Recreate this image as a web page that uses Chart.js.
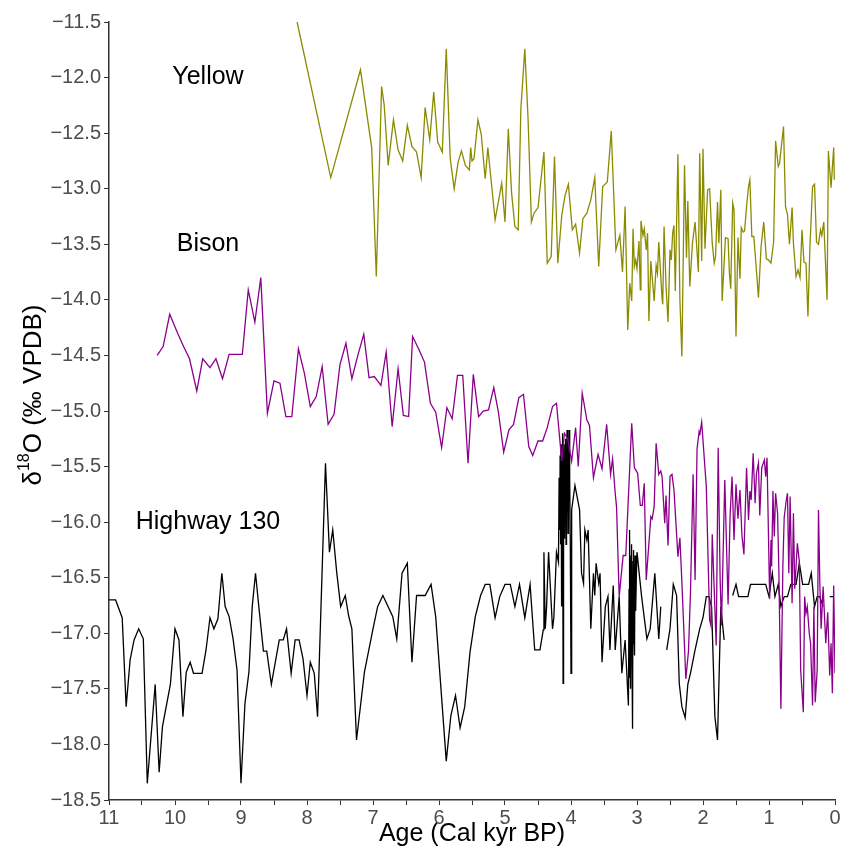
<!DOCTYPE html>
<html>
<head>
<meta charset="utf-8">
<script src="https://cdn.jsdelivr.net/npm/chart.js@4.4.1/dist/chart.umd.min.js"></script>
<style>
  html, body { margin: 0; padding: 0; background: #ffffff; }
  #wrap { width: 842px; height: 850px; }
</style>
</head>
<body>
<div id="wrap"><canvas id="c" width="842" height="850"></canvas></div>
<script>
// ---------- DATA ----------
const xTickLabels = ["11","10","9","8","7","6","5","4","3","2","1","0"];
const seriesNames = ["Yellow", "Bison", "Highway 130"];

const yellowAge = [8.15,7.64,7.19,7.02,6.95,6.87,6.83,6.77,6.69,6.62,6.55,6.48,6.41,6.34,6.27,6.21,6.14,6.08,6.02,5.95,5.89,5.83,5.77,5.71,5.66,5.60,5.54,5.52,5.50,5.47,5.41,5.36,5.30,5.26,5.15,5.05,5.00,4.95,4.90,4.85,4.80,4.76,4.70,4.65,4.60,4.56,4.50,4.41,4.36,4.30,4.25,4.20,4.14,4.09,4.04,3.98,3.93,3.87,3.82,3.76,3.70,3.64,3.58,3.52,3.45,3.39,3.32,3.26,3.22,3.18,3.14,3.11,3.08,3.06,3.04,3.02,3.00,2.97,2.95,2.94,2.91,2.89,2.86,2.84,2.82,2.79,2.74,2.71,2.69,2.67,2.62,2.61,2.59,2.56,2.53,2.50,2.48,2.46,2.44,2.42,2.38,2.35,2.32,2.28,2.25,2.23,2.20,2.16,2.12,2.07,2.05,2.02,2.00,1.97,1.93,1.90,1.86,1.83,1.81,1.78,1.76,1.73,1.71,1.66,1.62,1.60,1.58,1.55,1.53,1.50,1.47,1.44,1.42,1.39,1.37,1.34,1.31,1.29,1.26,1.23,1.20,1.16,1.12,1.08,1.04,1.01,0.97,0.93,0.90,0.86,0.84,0.78,0.75,0.72,0.69,0.65,0.63,0.59,0.56,0.53,0.50,0.47,0.44,0.41,0.38,0.34,0.31,0.28,0.25,0.22,0.20,0.17,0.12,0.10,0.06,0.02,0.01];
const yellowD18O = [-11.50,-12.90,-11.93,-12.63,-13.79,-12.08,-12.25,-12.79,-12.38,-12.65,-12.75,-12.43,-12.62,-12.67,-12.90,-12.27,-12.56,-12.13,-12.58,-12.67,-11.74,-12.73,-13.00,-12.76,-12.66,-12.79,-12.83,-12.63,-12.75,-12.73,-12.38,-12.51,-12.91,-12.63,-13.28,-12.95,-13.30,-12.46,-13.04,-13.34,-13.37,-12.29,-11.74,-12.38,-13.30,-13.22,-13.17,-12.67,-13.67,-13.61,-12.71,-13.67,-13.24,-13.06,-12.96,-13.37,-13.32,-13.58,-13.27,-13.22,-13.10,-12.90,-13.70,-12.98,-12.94,-12.48,-13.55,-13.42,-13.75,-13.16,-14.27,-13.85,-14.01,-13.36,-13.70,-13.64,-13.72,-13.47,-13.91,-13.29,-13.42,-13.36,-13.55,-13.40,-14.19,-13.65,-14.01,-13.69,-13.76,-13.48,-13.99,-14.04,-13.34,-13.88,-14.20,-13.55,-13.64,-13.40,-13.33,-13.92,-12.69,-14.00,-14.51,-12.79,-13.62,-13.11,-13.88,-13.49,-13.30,-13.75,-12.68,-13.65,-12.64,-13.54,-13.01,-13.00,-13.49,-13.67,-13.61,-13.12,-13.49,-13.01,-14.01,-13.44,-13.45,-13.76,-13.90,-13.13,-13.19,-14.33,-13.44,-13.81,-13.35,-13.39,-13.38,-13.16,-12.98,-12.92,-13.43,-13.43,-13.66,-13.98,-13.52,-13.30,-13.63,-13.64,-13.67,-13.48,-12.57,-12.80,-12.77,-12.44,-13.16,-13.23,-13.50,-13.17,-13.49,-13.79,-13.73,-13.80,-13.37,-13.66,-13.67,-14.15,-13.52,-12.98,-12.96,-13.48,-13.50,-13.37,-13.42,-13.30,-14.00,-12.66,-12.99,-12.63,-12.92];

const bisonAge = [10.27,10.18,10.08,9.96,9.87,9.78,9.67,9.58,9.47,9.38,9.28,9.18,9.08,8.98,8.89,8.79,8.70,8.60,8.50,8.41,8.32,8.23,8.13,8.04,7.95,7.86,7.77,7.68,7.59,7.50,7.41,7.32,7.23,7.14,7.06,6.98,6.88,6.80,6.71,6.62,6.54,6.46,6.40,6.31,6.22,6.13,6.05,5.96,5.88,5.80,5.72,5.64,5.56,5.48,5.40,5.33,5.25,5.17,5.10,5.02,4.94,4.87,4.79,4.72,4.64,4.58,4.50,4.43,4.36,4.28,4.22,4.14,4.10,4.05,3.99,3.93,3.89,3.83,3.76,3.72,3.66,3.59,3.53,3.46,3.40,3.37,3.33,3.31,3.27,3.21,3.17,3.08,3.04,2.99,2.95,2.92,2.89,2.86,2.79,2.77,2.74,2.71,2.67,2.64,2.62,2.58,2.56,2.53,2.50,2.47,2.44,2.38,2.35,2.32,2.26,2.22,2.19,2.15,2.12,2.09,2.06,2.05,2.02,1.95,1.90,1.88,1.86,1.80,1.77,1.74,1.72,1.67,1.62,1.59,1.56,1.53,1.50,1.47,1.44,1.41,1.38,1.34,1.31,1.29,1.27,1.24,1.21,1.19,1.16,1.14,1.11,1.07,1.05,1.03,0.99,0.97,0.96,0.94,0.92,0.90,0.87,0.85,0.82,0.79,0.77,0.74,0.72,0.70,0.68,0.65,0.63,0.61,0.57,0.54,0.52,0.48,0.46,0.44,0.42,0.39,0.37,0.34,0.32,0.30,0.27,0.25,0.23,0.21,0.18,0.14,0.11,0.08,0.06,0.04,0.02,0.00];
const bisonD18O = [-14.50,-14.42,-14.13,-14.30,-14.42,-14.53,-14.82,-14.53,-14.61,-14.53,-14.71,-14.49,-14.49,-14.49,-13.91,-14.20,-13.80,-15.02,-14.73,-14.75,-15.05,-15.05,-14.44,-14.66,-14.96,-14.87,-14.60,-15.12,-15.03,-14.58,-14.39,-14.71,-14.50,-14.31,-14.70,-14.69,-14.77,-14.47,-15.14,-14.62,-15.04,-15.05,-14.33,-14.44,-14.56,-14.93,-15.01,-15.33,-14.97,-15.07,-14.68,-14.68,-15.47,-14.67,-15.05,-15.00,-14.99,-14.79,-15.01,-15.37,-15.17,-15.12,-14.88,-14.85,-15.32,-15.40,-15.27,-15.27,-15.15,-14.96,-14.93,-15.45,-15.20,-15.25,-15.45,-15.15,-15.50,-14.84,-15.08,-15.13,-15.60,-15.39,-15.52,-15.12,-15.57,-15.43,-15.74,-15.86,-16.67,-16.30,-16.30,-15.11,-15.51,-15.56,-15.85,-15.85,-15.65,-16.52,-15.95,-15.97,-15.86,-15.29,-15.57,-15.54,-15.59,-16.01,-15.76,-16.21,-15.59,-15.57,-15.71,-16.31,-16.14,-16.54,-17.41,-17.16,-16.64,-15.57,-16.52,-15.34,-15.19,-15.22,-15.10,-15.68,-16.88,-16.93,-16.11,-17.11,-15.33,-16.52,-16.93,-15.62,-16.74,-15.95,-15.59,-16.16,-15.66,-15.97,-15.71,-16.12,-16.29,-15.51,-15.98,-15.72,-15.80,-15.38,-15.83,-15.56,-15.47,-15.94,-15.51,-15.44,-15.59,-15.42,-16.69,-16.16,-16.40,-15.72,-16.13,-15.74,-15.92,-16.45,-17.68,-16.40,-15.96,-15.81,-15.74,-16.46,-15.77,-16.73,-15.92,-16.60,-16.19,-16.36,-17.33,-17.71,-16.67,-16.82,-16.76,-17.00,-17.09,-17.65,-16.76,-17.62,-17.33,-15.89,-16.54,-16.96,-16.58,-17.09,-16.81,-17.38,-17.09,-17.54,-16.57,-17.36];

const highwayAge = [11.00,10.90,10.80,10.74,10.68,10.62,10.55,10.48,10.42,10.30,10.24,10.19,10.07,10.00,9.94,9.88,9.83,9.77,9.72,9.59,9.53,9.47,9.41,9.35,9.29,9.24,9.18,9.12,9.06,9.00,8.94,8.88,8.83,8.78,8.73,8.66,8.61,8.54,8.48,8.42,8.36,8.31,8.24,8.18,8.12,8.06,8.00,7.95,7.89,7.84,7.72,7.66,7.61,7.55,7.49,7.42,7.37,7.32,7.25,7.13,7.00,6.93,6.85,6.70,6.64,6.56,6.48,6.41,6.34,6.21,6.12,6.05,5.89,5.82,5.75,5.68,5.61,5.53,5.45,5.37,5.30,5.23,5.15,5.08,5.00,4.92,4.85,4.78,4.70,4.62,4.55,4.47,4.42,4.41,4.39,4.37,4.34,4.28,4.26,4.22,4.19,4.18,4.17,4.165,4.16,4.155,4.15,4.145,4.14,4.135,4.13,4.125,4.12,4.115,4.11,4.105,4.10,4.095,4.09,4.085,4.08,4.075,4.07,4.065,4.06,4.055,4.05,4.045,4.04,4.035,4.03,4.02,4.01,4.00,3.99,3.94,3.87,3.84,3.81,3.79,3.76,3.74,3.70,3.66,3.64,3.62,3.58,3.56,3.53,3.48,3.44,3.41,3.36,3.33,3.27,3.23,3.18,3.13,3.12,3.115,3.11,3.105,3.10,3.095,3.09,3.085,3.08,3.075,3.07,3.065,3.06,3.055,3.05,3.045,3.04,3.035,3.03,3.02,3.01,3.00,2.93,2.85,2.80,2.73,2.67,2.64,2.60,2.55,2.50,2.45,2.40,2.36,2.32,2.27,2.23,2.19,2.12,2.05,2.00,1.95,1.91,1.87,1.82,1.78,1.73,1.68,1.62,1.55,1.50,1.46,1.32,1.28,1.05,1.00,0.95,0.91,0.86,0.82,0.77,0.72,0.67,0.59,0.54,0.49,0.40,0.36,0.31,0.27,0.23,0.18,0.13,0.08,0.02];
const highwayD18O = [-16.70,-16.70,-16.86,-17.66,-17.24,-17.06,-16.96,-17.05,-18.35,-17.46,-18.25,-17.84,-17.46,-16.96,-17.06,-17.75,-17.35,-17.26,-17.36,-17.36,-17.15,-16.86,-16.96,-16.87,-16.46,-16.76,-16.85,-17.05,-17.33,-18.35,-17.63,-17.35,-16.76,-16.46,-16.76,-17.16,-17.16,-17.46,-17.26,-17.06,-17.06,-16.96,-17.36,-17.06,-17.06,-17.23,-17.56,-17.26,-17.36,-17.75,-15.47,-16.27,-16.07,-16.45,-16.76,-16.66,-16.84,-16.96,-17.96,-17.35,-16.96,-16.76,-16.66,-16.85,-17.05,-16.46,-16.37,-17.26,-16.66,-16.66,-16.56,-16.85,-18.15,-17.74,-17.56,-17.85,-17.66,-17.17,-16.85,-16.66,-16.56,-16.56,-16.86,-16.67,-16.56,-16.56,-16.76,-16.56,-16.86,-16.56,-17.15,-17.15,-16.97,-16.27,-16.96,-16.76,-16.27,-16.96,-16.86,-16.27,-16.36,-15.60,-16.07,-15.40,-16.20,-15.55,-15.30,-16.10,-16.76,-15.35,-15.90,-15.20,-17.45,-15.50,-15.29,-16.00,-15.40,-16.15,-15.30,-15.85,-15.25,-16.20,-15.45,-15.95,-15.17,-15.70,-15.35,-16.10,-15.50,-15.90,-15.17,-15.60,-16.25,-17.36,-15.89,-15.67,-15.89,-16.46,-16.55,-16.07,-16.16,-16.07,-16.96,-16.46,-16.66,-16.37,-16.55,-16.46,-17.26,-16.76,-16.67,-17.15,-16.57,-17.15,-16.67,-17.36,-17.06,-17.65,-16.60,-17.40,-16.07,-17.20,-16.40,-17.50,-16.30,-17.00,-16.20,-17.30,-16.50,-17.86,-16.35,-17.10,-16.25,-16.90,-16.40,-17.20,-16.30,-16.80,-16.50,-16.27,-16.67,-17.05,-16.96,-16.46,-17.05,-16.76,null,-17.15,-16.96,-16.56,-16.66,-17.45,-17.66,-17.76,-17.46,-17.36,-17.15,-16.96,-16.86,-16.67,-16.67,-16.76,-17.75,-17.96,-16.76,-17.06,null,-16.66,-16.56,-16.67,-16.67,-16.56,-16.56,-16.67,-16.46,-16.67,-16.56,-16.76,-16.67,-16.67,-16.56,-16.56,-16.37,-16.56,-16.56,-16.46,-16.76,-16.67,-16.67,-16.76,null,-16.67,-16.67];

// text label anchors (age, value)
const labelAge = [9.5, 9.5, 9.5];
const labelD18O = [-12.0, -13.5, -16.0];

// ---------- STYLES ----------
const FONT = '"Liberation Sans", Arial, Helvetica, sans-serif';
const COLORS = ['#8B8B00', '#8B008B', '#000000'];

function pts(ages, vals) { return ages.map((a, i) => ({ x: a, y: vals[i] })); }

const labelPlugin = {
  id: 'seriesLabels',
  afterDatasetsDraw(chart) {
    const { ctx, scales: { x, y } } = chart;
    ctx.save();
    ctx.fillStyle = '#000';
    ctx.font = '25px ' + FONT;
    ctx.textAlign = 'center';
    ctx.textBaseline = 'middle';
    seriesNames.forEach((n, i) => {
      ctx.fillText(n, x.getPixelForValue(labelAge[i]), y.getPixelForValue(labelD18O[i]));
    });
    ctx.restore();
  }
};

const yTitlePlugin = {
  id: 'yTitle',
  afterDraw(chart) {
    const { ctx, chartArea } = chart;
    ctx.save();
    ctx.translate(31, (chartArea.top + chartArea.bottom) / 2 - 16);
    ctx.rotate(-Math.PI / 2);
    const big = '26px ' + FONT, small = '16px ' + FONT;
    ctx.font = big;
    const w1 = ctx.measureText('δ').width;
    const w3 = ctx.measureText('O (‰ VPDB)').width;
    ctx.font = small;
    const w2 = ctx.measureText('18').width;
    let px = -(w1 + w2 + w3) / 2;
    ctx.fillStyle = '#000';
    ctx.textBaseline = 'alphabetic';
    ctx.font = big; ctx.fillText('δ', px, 10); px += w1;
    ctx.font = small; ctx.fillText('18', px, -2); px += w2;
    ctx.font = big; ctx.fillText('O (‰ VPDB)', px, 10);
    ctx.restore();
  }
};

const ctx = document.getElementById('c').getContext('2d');
new Chart(ctx, {
  type: 'line',
  data: {
    datasets: [
      { label: seriesNames[0], data: pts(yellowAge, yellowD18O), borderColor: COLORS[0], borderWidth: 1.3, pointRadius: 0, tension: 0, fill: false },
      { label: seriesNames[1], data: pts(bisonAge, bisonD18O), borderColor: COLORS[1], borderWidth: 1.3, pointRadius: 0, tension: 0, fill: false },
      { label: seriesNames[2], data: pts(highwayAge, highwayD18O), borderColor: COLORS[2], borderWidth: 1.3, pointRadius: 0, tension: 0, fill: false, spanGaps: false }
    ]
  },
  options: {
    responsive: false,
    animation: false,
    events: [],
    layout: { padding: { top: 22, right: 7, bottom: 0, left: 0 } },
    plugins: { legend: { display: false }, tooltip: { enabled: false } },
    scales: {
      x: {
        type: 'linear', reverse: true, min: 0, max: 11,
        afterBuildTicks: (s) => { s.ticks = []; for (let v = 0; v <= 11; v += 0.5) s.ticks.push({ value: v }); },
        ticks: {
          autoSkip: false, maxRotation: 0, color: '#4d4d4d', padding: 1,
          font: { size: 20, family: FONT },
          callback: (v) => Number.isInteger(v) ? xTickLabels[11 - v] : ''
        },
        grid: { drawOnChartArea: false, drawTicks: true, tickLength: 5, color: '#333333', lineWidth: 1 },
        border: { color: '#333333', width: 1.5 },
        title: { display: true, text: 'Age (Cal kyr BP)', color: '#000', font: { size: 25, family: FONT }, padding: { top: 0, bottom: 1 } },
        afterFit: (s) => { s.height = 50; }
      },
      y: {
        type: 'linear', min: -18.5, max: -11.5,
        afterBuildTicks: (s) => { s.ticks = []; for (let v = -18.5; v <= -11.5 + 1e-9; v += 0.5) s.ticks.push({ value: Math.round(v * 10) / 10 }); },
        ticks: {
          color: '#4d4d4d', padding: 3,
          font: { size: 20, family: FONT },
          callback: (v) => '\u2212' + Math.abs(v).toFixed(1)
        },
        grid: { drawOnChartArea: false, drawTicks: true, tickLength: 5, color: '#333333', lineWidth: 1 },
        border: { color: '#333333', width: 1.5 },
        afterFit: (s) => { s.width = 109; }
      }
    }
  },
  plugins: [labelPlugin, yTitlePlugin]
});
</script>
</body>
</html>
